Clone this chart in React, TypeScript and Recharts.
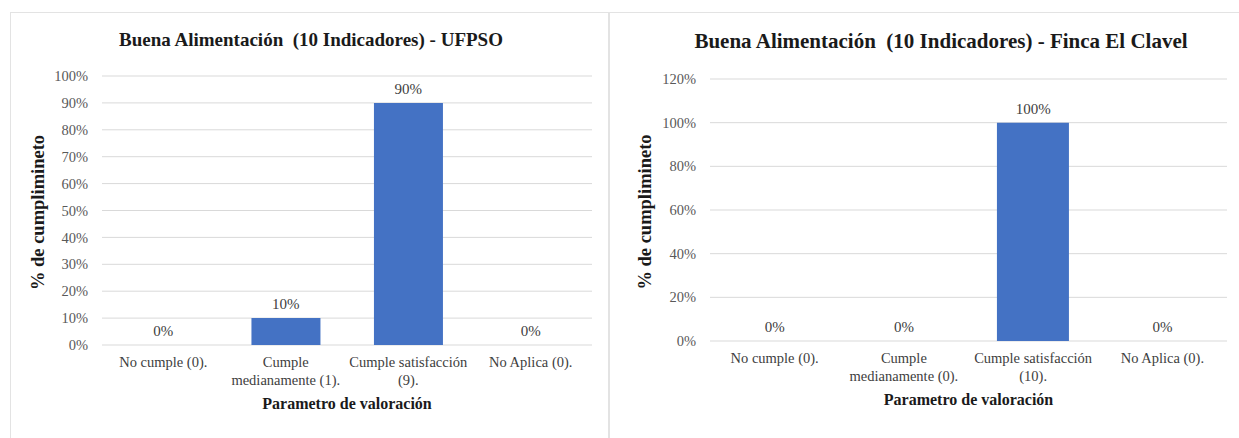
import { Bar, CartesianGrid, ComposedChart, LabelList, Line, XAxis, YAxis } from 'recharts';

const categoriesUfpso = ['No cumple (0).', 'Cumple\nmedianamente (1).', 'Cumple satisfacción\n(9).', 'No Aplica (0).'];
const valuesUfpso = [0, 10, 90, 0];
const ticksUfpso = [0, 10, 20, 30, 40, 50, 60, 70, 80, 90, 100];

const categoriesClavel = ['No cumple (0).', 'Cumple\nmedianamente (0).', 'Cumple satisfacción\n(10).', 'No Aplica (0).'];
const valuesClavel = [0, 0, 100, 0];
const ticksClavel = [0, 20, 40, 60, 80, 100, 120];

const SERIF = '"Liberation Serif", "Times New Roman", serif';
const BLUE = '#4472C4';

const pct = (v: number) => `${v}%`;

function CategoryTick({ x, y, payload }: any) {
  const lines = String(payload.value).split('\n');
  return (
    <g transform={`translate(${x},${y})`}>
      <text textAnchor="middle" fill="#404040" fontSize={14.5} fontFamily={SERIF}>
        {lines.map((l, i) => (
          <tspan key={i} x={0} dy={i === 0 ? 14 : 18}>
            {l}
          </tspan>
        ))}
      </text>
    </g>
  );
}

interface PanelProps {
  title: string;
  titleSize: number;
  titleCx: number;
  categories: string[];
  values: number[];
  ticks: number[];
  width: number;
  margin: { top: number; right: number; left: number; bottom: number };
  yLabelX: number;
}

function Panel({ title, titleSize, titleCx, categories, values, ticks, width, margin, yLabelX }: PanelProps) {
  const data = categories.map((name, i) => ({ name, value: values[i] }));
  const height = 438;
  return (
    <div style={{ position: 'relative', width, height }}>
      <div
        style={{
          position: 'absolute',
          top: 29,
          left: titleCx - 300,
          width: 600,
          textAlign: 'center',
          fontFamily: SERIF,
          fontWeight: 'bold',
          fontSize: titleSize,
          color: '#1a1a1a',
          whiteSpace: 'pre',
        }}
      >
        {title}
      </div>
      <div style={{ position: 'absolute', top: 0, left: 0 }}>
        <ComposedChart width={width} height={height} data={data} margin={margin} barCategoryGap="22%">
          <CartesianGrid vertical={false} stroke="#d9d9d9" />
          <XAxis
            dataKey="name"
            axisLine={false}
            tickLine={false}
            interval={0}
            height={64}
            tick={<CategoryTick />}
            label={{
              value: 'Parametro  de valoración',
              position: 'insideBottom',
              offset: 0,
              fill: '#1a1a1a',
              fontSize: 16,
              fontWeight: 'bold',
              fontFamily: SERIF,
              style: { whiteSpace: 'pre' },
            }}
          />
          <YAxis
            type="number"
            domain={[ticks[0], ticks[ticks.length - 1]]}
            ticks={ticks}
            interval={0}
            axisLine={false}
            tickLine={false}
            width={42}
            tickMargin={8}
            tickFormatter={pct}
            tick={{ fill: '#595959', fontSize: 14.5, fontFamily: SERIF }}
            label={(props: any) => {
              const vb = props.viewBox;
              const cy = vb.y + vb.height / 2 + 2;
              return (
                <text
                  x={yLabelX}
                  y={cy}
                  transform={`rotate(-90, ${yLabelX}, ${cy})`}
                  textAnchor="middle"
                  dominantBaseline="central"
                  fill="#1a1a1a"
                  fontSize={18.5}
                  fontWeight="bold"
                  fontFamily={SERIF}
                >
                  % de cumplimineto
                </text>
              );
            }}
          />
          <Bar dataKey="value" fill={BLUE} isAnimationActive={false} />
          {/* invisible line only carries the value labels, so the 0% labels show too */}
          <Line
            dataKey="value"
            stroke="none"
            dot={false}
            activeDot={false}
            legendType="none"
            isAnimationActive={false}
          >
            <LabelList
              dataKey="value"
              position="top"
              offset={9}
              formatter={(v: any) => pct(Number(v))}
              fill="#404040"
              fontSize={15}
              fontFamily={SERIF}
            />
          </Line>
        </ComposedChart>
      </div>
    </div>
  );
}

export default function App() {
  return (
    <div style={{ position: 'absolute', left: 0, top: 0, width: 1239, height: 438, background: '#fff', overflow: 'hidden' }}>
      <div
        style={{
          position: 'absolute',
          left: 10,
          top: 12,
          width: 597,
          height: 440,
          border: '1.5px solid #e3e3e3',
        }}
      />
      <div
        style={{
          position: 'absolute',
          left: 608,
          top: 12,
          width: 640,
          height: 440,
          borderTop: '1.5px solid #e3e3e3',
          borderLeft: '2px solid #e3e3e3',
        }}
      />
      <div style={{ position: 'absolute', left: 0, top: 0 }}>
        <Panel
          title="Buena Alimentación  (10 Indicadores) - UFPSO"
          titleSize={19}
          titleCx={311}
          categories={categoriesUfpso}
          values={valuesUfpso}
          ticks={ticksUfpso}
          width={609}
          margin={{ top: 76, right: 17, left: 60, bottom: 29 }}
          yLabelX={38}
        />
      </div>
      <div style={{ position: 'absolute', left: 609, top: 0 }}>
        <Panel
          title="Buena Alimentación  (10 Indicadores) - Finca El Clavel"
          titleSize={21}
          titleCx={332}
          categories={categoriesClavel}
          values={valuesClavel}
          ticks={ticksClavel}
          width={630}
          margin={{ top: 79, right: 12, left: 59, bottom: 33 }}
          yLabelX={36}
        />
      </div>
    </div>
  );
}
